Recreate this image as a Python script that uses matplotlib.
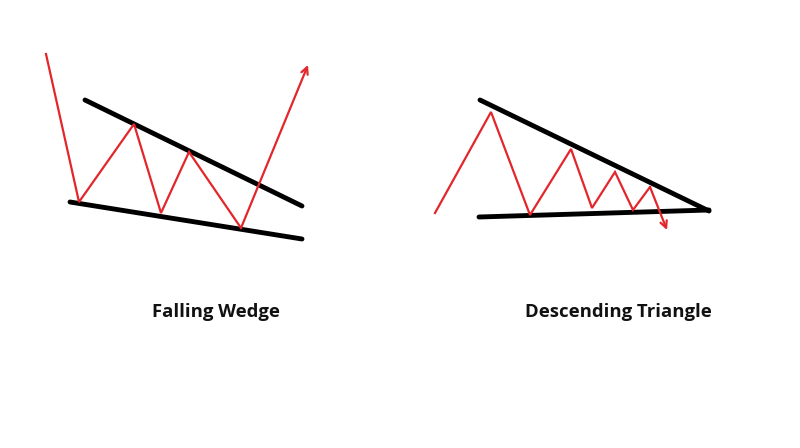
import matplotlib.pyplot as plt

# falling wedge: red price path and the two black trend lines
wedge_x = [46, 79, 134, 161, 189, 241, 308]
wedge_y = [54, 202, 124, 213, 152, 228, 65]
wedge_top_x = [85, 302]
wedge_top_y = [100, 206]
wedge_bot_x = [70, 302]
wedge_bot_y = [202, 239]

# descending triangle
tri_x = [435, 491, 530, 571, 592, 615, 633, 650, 667]
tri_y = [213, 112, 215, 149, 208, 172, 210, 187, 230]
tri_top_x = [480, 709]
tri_top_y = [100, 211]
tri_bot_x = [479, 709]
tri_bot_y = [217, 210]

labels = ["Falling Wedge", "Descending Triangle"]
label_x = [216, 618]
label_y = [312, 312]

red = "#e3262b"

fig = plt.figure(figsize=(8, 4.48), dpi=100)
ax = fig.add_axes([0, 0, 1, 1])
ax.set_xlim(0, 800)
ax.set_ylim(448, 0)
ax.axis("off")

# black trend lines
for xs, ys in [(wedge_top_x, wedge_top_y), (wedge_bot_x, wedge_bot_y),
               (tri_top_x, tri_top_y), (tri_bot_x, tri_bot_y)]:
    ax.plot(xs, ys, color="black", lw=3.5, solid_capstyle="round")

# red zigzags, last segment drawn as arrow
for xs, ys in [(wedge_x, wedge_y), (tri_x, tri_y)]:
    ax.plot(xs[:-1], ys[:-1], color=red, lw=1.6, solid_joinstyle="miter")
    ax.annotate("", xy=(xs[-1], ys[-1]), xytext=(xs[-2], ys[-2]),
                arrowprops=dict(arrowstyle="->", color=red, lw=1.6,
                                mutation_scale=12, shrinkA=0, shrinkB=0))

for t, x, y in zip(labels, label_x, label_y):
    ax.text(x, y, t, ha="center", va="center", fontsize=13.3,
            fontweight="bold", family="Open Sans", color="#111111")

fig.savefig("out.png", dpi=100)
